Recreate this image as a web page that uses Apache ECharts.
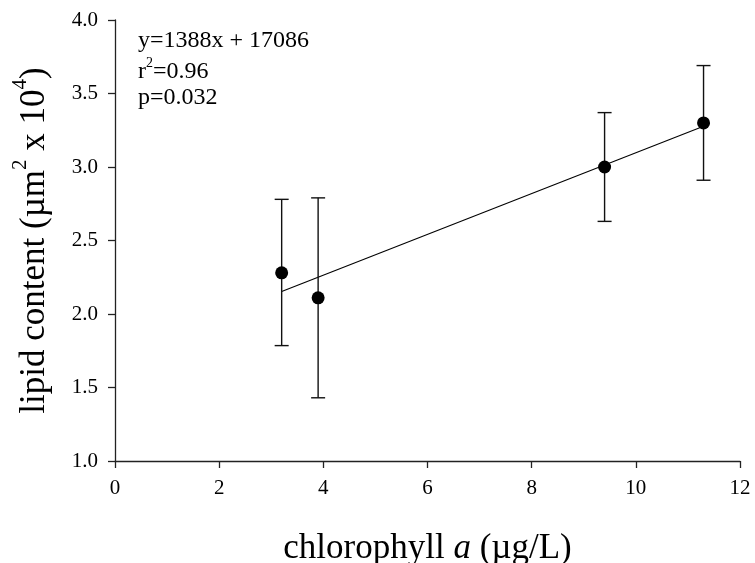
<!DOCTYPE html>
<html>
<head>
<meta charset="utf-8">
<script src="https://cdn.jsdelivr.net/npm/echarts@6/dist/echarts.min.js"></script>
<style>html,body{margin:0;padding:0;background:#fff}#c{width:755px;height:563px}</style>
</head>
<body>
<div id="c"></div>
<script>
var chlA = [3.2, 3.9, 9.4, 11.3];
var lipid = [2.28, 2.11, 3.00, 3.30];
var errLow = [1.785, 1.43, 2.63, 2.91];
var errHigh = [2.78, 2.79, 3.37, 3.69];
var fitX = [3.2, 11.3];
var fitY = [2.153, 3.277];
var xTicks = [0, 2, 4, 6, 8, 10, 12];
var yTicks = [1.0, 1.5, 2.0, 2.5, 3.0, 3.5, 4.0];

var FONT = '"Liberation Serif", "Times New Roman", serif';
var chart = echarts.init(document.getElementById('c'));

var pts = chlA.map(function (x, i) { return [x, lipid[i]]; });
var errs = chlA.map(function (x, i) { return [x, errLow[i], errHigh[i]]; });
var fit = fitX.map(function (x, i) { return [x, fitY[i]]; });

chart.setOption({
  animation: false,
  grid: { left: 115, right: 15, top: 20, bottom: 102, outerBoundsMode: 'none', containLabel: false },
  xAxis: {
    type: 'value', min: xTicks[0], max: xTicks[xTicks.length - 1], interval: 2,
    name: '{t|chlorophyll }{i|a}{t| (µg/L)}',
    nameLocation: 'middle', nameGap: 70,
    nameTextStyle: { rich: {
      t: { fontFamily: FONT, fontSize: 35, color: '#000', lineHeight: 36 },
      i: { fontFamily: FONT, fontSize: 35, fontStyle: 'italic', color: '#000', lineHeight: 36 }
    } },
    axisLine: { show: true, lineStyle: { color: '#222', width: 1.3 } },
    axisTick: { show: true, inside: false, length: 7, lineStyle: { color: '#222', width: 1.3 } },
    axisLabel: { fontFamily: FONT, fontSize: 21, color: '#000', margin: 17 },
    splitLine: { show: false }
  },
  yAxis: {
    type: 'value', min: yTicks[0], max: yTicks[yTicks.length - 1], interval: 0.5,
    name: '{t|lipid content (µm}{s|2}{t| x 10}{s|4}{t|)}',
    nameLocation: 'middle', nameGap: 63, nameRotate: 90,
    nameTextStyle: { rich: {
      t: { fontFamily: FONT, fontSize: 35, color: '#000', verticalAlign: 'bottom', lineHeight: 42 },
      s: { fontFamily: FONT, fontSize: 21, color: '#000', verticalAlign: 'top', lineHeight: 42 }
    } },
    axisLine: { show: true, lineStyle: { color: '#222', width: 1.3 } },
    axisTick: { show: true, inside: false, length: 7, lineStyle: { color: '#222', width: 1.3 } },
    axisLabel: { fontFamily: FONT, fontSize: 21, color: '#000', margin: 17,
      formatter: function (v) { return v.toFixed(1); } },
    splitLine: { show: false }
  },
  graphic: [
    { type: 'text', x: 138, y: 41, style: { text: 'y=1388x + 17086', font: '24px ' + FONT, fill: '#000', verticalAlign: 'middle' } },
    { type: 'text', x: 138, y: 70, style: {
      text: '{a|r}{s|2}{a|=0.96}', verticalAlign: 'middle',
      rich: {
        a: { fontFamily: FONT, fontSize: 24, fill: '#000', verticalAlign: 'bottom', lineHeight: 27 },
        s: { fontFamily: FONT, fontSize: 14, fill: '#000', verticalAlign: 'top', lineHeight: 27 }
      } } },
    { type: 'text', x: 138, y: 98, style: { text: 'p=0.032', font: '24px ' + FONT, fill: '#000', verticalAlign: 'middle' } }
  ],
  series: [
    {
      type: 'line', data: fit, symbol: 'none', silent: true,
      lineStyle: { color: '#000', width: 1.1 }, z: 2
    },
    {
      type: 'custom', data: errs, z: 3,
      renderItem: function (params, api) {
        var x = api.value(0);
        var lo = api.coord([x, api.value(1)]);
        var hi = api.coord([x, api.value(2)]);
        var hw = 7;
        var st = { stroke: '#111', lineWidth: 1.4 };
        return { type: 'group', children: [
          { type: 'line', shape: { x1: lo[0], y1: lo[1], x2: hi[0], y2: hi[1] }, style: st },
          { type: 'line', shape: { x1: lo[0] - hw, y1: lo[1], x2: lo[0] + hw, y2: lo[1] }, style: st },
          { type: 'line', shape: { x1: hi[0] - hw, y1: hi[1], x2: hi[0] + hw, y2: hi[1] }, style: st }
        ] };
      }
    },
    {
      type: 'scatter', data: pts, symbol: 'circle', symbolSize: 13, z: 4,
      itemStyle: { color: '#000', opacity: 1 }
    }
  ]
});
</script>
</body>
</html>
